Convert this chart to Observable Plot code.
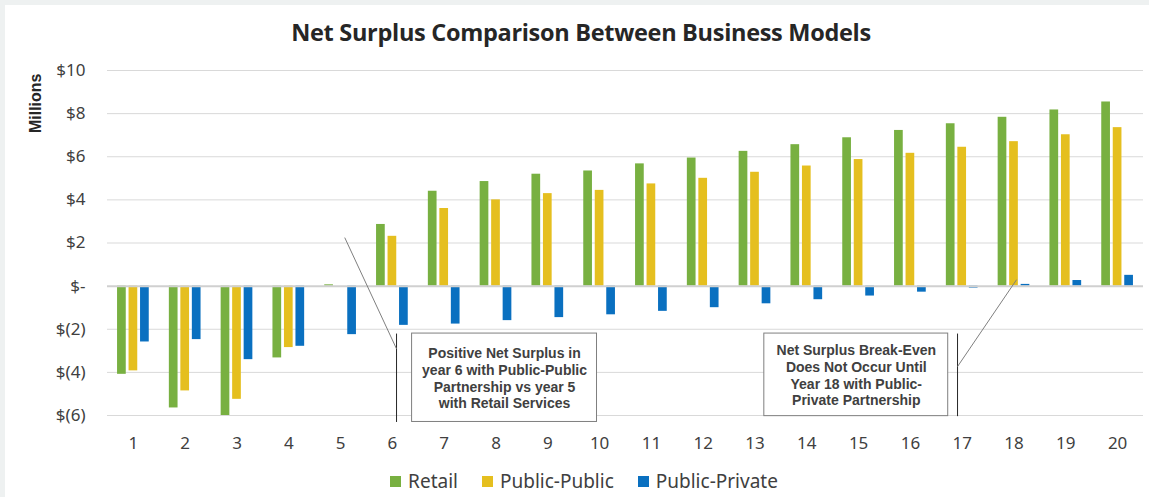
<!DOCTYPE html>
<html><head><meta charset="utf-8">
<script src="https://cdn.jsdelivr.net/npm/d3@7"></script>
<script src="https://cdn.jsdelivr.net/npm/@observablehq/plot@0.6"></script>
<style>
html,body{margin:0;padding:0;background:#eef1f1;width:1149px;height:497px;overflow:hidden;}
#card{position:absolute;left:5px;top:5px;width:1144px;height:492px;background:#fff;}
#title{position:absolute;left:4px;top:11px;width:1144px;text-align:center;font:bold 23.5px "Open Sans",sans-serif;color:#262626;letter-spacing:-0.3px;}
#chart{position:absolute;left:0;top:45px;}
#legend{position:absolute;left:7px;top:463px;width:1144px;display:flex;justify-content:center;font:19px "Noto Sans",sans-serif;color:#404040;}
#legend .item{display:flex;align-items:center;margin:0 12px;}
#legend .sw{width:11px;height:11px;margin-right:7px;}
</style></head>
<body>
<div id="card">
  <div id="title">Net Surplus Comparison Between Business Models</div>
  <div id="chart"></div>
  <div id="legend"></div>
</div>
<script>
// ---- data ----
const years = [1,2,3,4,5,6,7,8,9,10,11,12,13,14,15,16,17,18,19,20];
const seriesNames = ["Retail", "Public-Public", "Public-Private"];
const seriesColors = ["#78b041", "#e5bf1f", "#0a70c0"];
const retail = [-4.09,-5.65,-6.00,-3.33,0.06,2.86,4.40,4.85,5.19,5.34,5.67,5.94,6.25,6.56,6.88,7.22,7.53,7.83,8.17,8.54];
const publicPublic = [-3.93,-4.86,-5.25,-2.85,0.00,2.31,3.60,4.00,4.29,4.44,4.74,5.00,5.28,5.57,5.87,6.16,6.44,6.70,7.02,7.35];
const publicPrivate = [-2.59,-2.48,-3.41,-2.79,-2.25,-1.82,-1.76,-1.60,-1.46,-1.33,-1.17,-1.00,-0.82,-0.63,-0.46,-0.28,-0.09,0.08,0.26,0.50];
const yTicks = [-6,-4,-2,0,2,4,6,8,10];
const yLabel = "Millions";
const annotations = [
  {text: "Positive Net Surplus in\nyear 6 with Public-Public\nPartnership vs year 5\nwith Retail Services", x1: 6.38, x2: 9.95, y1: -2.2, y2: -6.3},
  {text: "Net Surplus Break-Even\nDoes Not Occur Until\nYear 18 with Public-\nPrivate Partnership", x1: 13.18, x2: 16.73, y1: -2.2, y2: -6.03}
];
const leaderBars = [
  {x1: 6.08, y1: -2.2, x2: 6.08, y2: -6.3},
  {x1: 16.91, y1: -2.2, x2: 16.91, y2: -6.03}
];
const leaderLines = [
  {x1: 5.08, y1: 2.25, x2: 6.08, y2: -2.91},
  {x1: 16.91, y1: -3.73, x2: 18.05, y2: 0.30}
];

// ---- layout ----
const seriesArrays = [retail, publicPublic, publicPrivate];
const rows = [];
seriesArrays.forEach((arr, si) => arr.forEach((v, i) => rows.push({year: years[i], series: seriesNames[si], si, value: v})));
const step = 0.222, half = 0.084;
const fmt = v => v === 0 ? "$-" : v < 0 ? `$(${-v})` : `$${v}`;

const chart = Plot.plot({
  width: 1144, height: 410,
  marginLeft: 102, marginRight: 6, marginTop: 20, marginBottom: 45,
  style: {fontFamily: "Noto Sans, sans-serif", fontSize: "17px", color: "#404040", background: "white", overflow: "visible"},
  x: {type: "linear", domain: [0.5, 20.5], ticks: years, tickFormat: d => String(d), tickSize: 0, tickPadding: 21, label: null},
  y: {domain: [-6, 10], ticks: yTicks, tickFormat: fmt, tickSize: 0, tickPadding: 22, label: null},
  color: {domain: seriesNames, range: seriesColors},
  marks: [
    Plot.ruleY(yTicks.filter(t => t !== 0), {stroke: "#d9d9d9", strokeWidth: 1}),
    Plot.rect(rows, {x1: d => d.year + (d.si - 1) * step - half, x2: d => d.year + (d.si - 1) * step + half, y1: 0, y2: "value", fill: "series"}),
    Plot.ruleY([0], {stroke: "#d0d0d0", strokeWidth: 2}),
    Plot.rect(annotations, {x1: "x1", x2: "x2", y1: "y1", y2: "y2", fill: "white", stroke: "#7f7f7f", strokeWidth: 1}),
    Plot.text(annotations, {x: d => (d.x1 + d.x2) / 2, y: d => (d.y1 + d.y2) / 2, text: "text", lineHeight: 1.2, fontSize: 14, fontWeight: "bold", fontFamily: "Liberation Sans, Arial, sans-serif", fill: "#404040"}),
    Plot.link(leaderBars, {x1: "x1", y1: "y1", x2: "x2", y2: "y2", stroke: "#262626", strokeWidth: 1}),
    Plot.link(leaderLines, {x1: "x1", y1: "y1", x2: "x2", y2: "y2", stroke: "#7f7f7f", strokeWidth: 1}),
    Plot.text([yLabel], {frameAnchor: "top-left", text: d => d, rotate: -90, textAnchor: "end", dx: -78, dy: 3, fontWeight: "bold", fontSize: 16, fontFamily: "Liberation Sans, Arial, sans-serif", fill: "#262626"})
  ]
});
document.getElementById("chart").appendChild(chart);

const legend = document.getElementById("legend");
seriesNames.forEach((n, i) => {
  const it = document.createElement("div"); it.className = "item";
  const sw = document.createElement("div"); sw.className = "sw"; sw.style.background = seriesColors[i];
  const tx = document.createElement("span"); tx.textContent = n;
  it.appendChild(sw); it.appendChild(tx); legend.appendChild(it);
});
</script>
</body></html>
